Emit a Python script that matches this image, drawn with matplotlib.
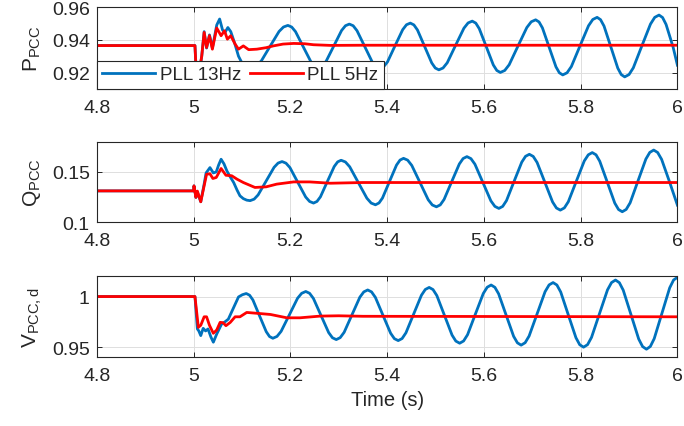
import numpy as np
import matplotlib.pyplot as plt

plt.rcParams['font.family'] = 'Liberation Sans'
plt.rcParams['mathtext.default'] = 'regular'

# ---- values ----
# P_PCC, PLL 13Hz
t_p13 = [4.8, 5.0, 5.003, 5.006, 5.012, 5.017, 5.022, 5.027, 5.033, 5.039, 5.048, 5.054, 5.060, 5.065,
         5.071, 5.077, 5.085, 5.093, 5.100, 5.111, 5.122,
         5.1311, 5.1403, 5.1585, 5.1768, 5.1859, 5.195,
         5.2029, 5.2108, 5.2265, 5.2423, 5.2501, 5.258,
         5.266, 5.274, 5.290, 5.306, 5.314, 5.322,
         5.3299, 5.3378, 5.3535, 5.3693, 5.3771, 5.385,
         5.3929, 5.4008, 5.4165, 5.4323, 5.4401, 5.448,
         5.4554, 5.4628, 5.4775, 5.4923, 5.4996, 5.507,
         5.5156, 5.5243, 5.5415, 5.5588, 5.5674, 5.576,
         5.5833, 5.5905, 5.605, 5.6195, 5.6268, 5.634,
         5.6431, 5.6523, 5.6705, 5.6888, 5.6979, 5.707,
         5.714, 5.721, 5.735, 5.749, 5.756, 5.763,
         5.7719, 5.7808, 5.7985, 5.8163, 5.8251, 5.834,
         5.8411, 5.8483, 5.8625, 5.8768, 5.8839, 5.891,
         5.8999, 5.9088, 5.9265, 5.9443, 5.9531, 5.962,
         5.9693, 5.9765, 5.991, 6.0]
p_13 = [0.9365, 0.9365, 0.9365, 0.918, 0.920, 0.930, 0.945, 0.935, 0.943, 0.935, 0.949, 0.9527, 0.946, 0.9445,
        0.9475, 0.945, 0.938, 0.930, 0.926, 0.9243, 0.9235,
        0.9245, 0.9272, 0.9362, 0.9451, 0.9478, 0.9488,
        0.9478, 0.9450, 0.9359, 0.9268, 0.9240, 0.9230,
        0.9240, 0.9269, 0.9363, 0.9457, 0.9486, 0.9496,
        0.9486, 0.9456, 0.9361, 0.9265, 0.9235, 0.9225,
        0.9236, 0.9265, 0.9364, 0.9462, 0.9492, 0.9502,
        0.9491, 0.9460, 0.9360, 0.9259, 0.9228, 0.9217,
        0.9228, 0.9260, 0.9366, 0.9471, 0.9503, 0.9514,
        0.9502, 0.9468, 0.9358, 0.9247, 0.9213, 0.9201,
        0.9213, 0.9248, 0.9362, 0.9475, 0.9510, 0.9522,
        0.9509, 0.9473, 0.9354, 0.9235, 0.9199, 0.9186,
        0.9199, 0.9237, 0.9362, 0.9486, 0.9524, 0.9537,
        0.9523, 0.9484, 0.9356, 0.9227, 0.9188, 0.9174,
        0.9188, 0.9229, 0.9363, 0.9496, 0.9537, 0.9551,
        0.9536, 0.9494, 0.9356, 0.9245]

# P_PCC, PLL 5Hz
t_p5 = [4.8, 5.0, 5.003, 5.006, 5.012, 5.017, 5.022, 5.027, 5.033, 5.039, 5.048, 5.057, 5.064, 5.070,
        5.077, 5.086, 5.093, 5.103, 5.114, 5.131, 5.150, 5.165, 5.185, 5.207, 5.230, 5.248, 5.283, 5.350, 6.0]
p_5 = [0.9365, 0.9365, 0.9365, 0.918, 0.921, 0.930, 0.9445, 0.9353, 0.9425, 0.9343, 0.9472, 0.9425, 0.9455, 0.9404,
       0.9425, 0.9374, 0.9343, 0.9363, 0.9340, 0.9343, 0.9352, 0.9363, 0.9374, 0.9378, 0.9376, 0.9370, 0.9366, 0.9367, 0.9367]

# Q_PCC, PLL 13Hz
t_q13 = [4.8, 5.0, 5.001, 5.005, 5.008, 5.015, 5.022, 5.026, 5.034, 5.041, 5.047, 5.052, 5.057, 5.063,
         5.069, 5.076, 5.083, 5.090, 5.096, 5.103, 5.110, 5.117,
         5.1253, 5.1335, 5.150, 5.1665, 5.1748, 5.183,
         5.1911, 5.1993, 5.2155, 5.2318, 5.2399, 5.248,
         5.2551, 5.2623, 5.2765, 5.2908, 5.2979, 5.305,
         5.3139, 5.3228, 5.3405, 5.3583, 5.3671, 5.376,
         5.3833, 5.3905, 5.405, 5.4195, 5.4268, 5.434,
         5.4425, 5.451, 5.468, 5.485, 5.4935, 5.502,
         5.5099, 5.5178, 5.5335, 5.5493, 5.5571, 5.565,
         5.5733, 5.5815, 5.598, 5.6145, 5.6228, 5.631,
         5.6389, 5.6468, 5.6625, 5.6783, 5.6861, 5.694,
         5.702, 5.710, 5.726, 5.742, 5.750, 5.758,
         5.7663, 5.7745, 5.791, 5.8075, 5.8158, 5.824,
         5.8318, 5.8395, 5.855, 5.8705, 5.8783, 5.886,
         5.8941, 5.9023, 5.9185, 5.9348, 5.9429, 5.951,
         5.9591, 5.9673, 5.9835, 6.0]
q_13 = [0.1312, 0.1312, 0.1362, 0.1247, 0.130, 0.1204, 0.138, 0.149, 0.1543, 0.149, 0.150, 0.157, 0.1626, 0.158,
        0.151, 0.145, 0.1395, 0.132, 0.1263, 0.1235, 0.1220, 0.1215,
        0.1230, 0.1272, 0.1409, 0.1546, 0.1588, 0.1603,
        0.1587, 0.1543, 0.1397, 0.1251, 0.1207, 0.1191,
        0.1207, 0.1253, 0.1404, 0.1554, 0.1600, 0.1616,
        0.1599, 0.1551, 0.1395, 0.1239, 0.1191, 0.1174,
        0.1192, 0.1241, 0.1405, 0.1568, 0.1618, 0.1635,
        0.1617, 0.1565, 0.1395, 0.1224, 0.1172, 0.1154,
        0.1173, 0.1227, 0.1403, 0.1579, 0.1633, 0.1652,
        0.1632, 0.1577, 0.1395, 0.1213, 0.1158, 0.1138,
        0.1158, 0.1216, 0.1407, 0.1597, 0.1655, 0.1675,
        0.1654, 0.1594, 0.1398, 0.1202, 0.1142, 0.1121,
        0.1143, 0.1204, 0.1407, 0.1609, 0.1670, 0.1692,
        0.1670, 0.1606, 0.1399, 0.1191, 0.1127, 0.1105,
        0.1128, 0.1194, 0.1411, 0.1628, 0.1694, 0.1717,
        0.1693, 0.1625, 0.1404, 0.1170]

# Q_PCC, PLL 5Hz
t_q5 = [4.8, 5.0, 5.001, 5.005, 5.008, 5.015, 5.027, 5.034, 5.040, 5.047, 5.057, 5.067, 5.079, 5.090,
        5.103, 5.127, 5.150, 5.172, 5.207, 5.240, 5.283, 5.350, 6.0]
q_5 = [0.1312, 0.1312, 0.1362, 0.1247, 0.131, 0.1204, 0.1477, 0.1482, 0.1435, 0.1445, 0.1534, 0.1467, 0.1462, 0.1428,
       0.1395, 0.1346, 0.1352, 0.1379, 0.1401, 0.1401, 0.1388, 0.1395, 0.1395]

# V_PCC,d, PLL 13Hz
t_v13 = [4.8, 5.0, 5.003, 5.008, 5.011, 5.015, 5.020, 5.025, 5.030, 5.036, 5.041, 5.048, 5.058, 5.065,
         5.072, 5.083, 5.093, 5.101, 5.109,
         5.1159, 5.1228, 5.1365, 5.1503, 5.1571, 5.164,
         5.1725, 5.181, 5.198, 5.215, 5.2235, 5.232,
         5.2399, 5.2478, 5.2635, 5.2793, 5.2871, 5.295,
         5.3031, 5.3113, 5.3275, 5.3438, 5.3519, 5.360,
         5.3679, 5.3758, 5.3915, 5.4073, 5.4151, 5.423,
         5.431, 5.439, 5.455, 5.471, 5.479, 5.487,
         5.4949, 5.5028, 5.5185, 5.5343, 5.5421, 5.550,
         5.5581, 5.5663, 5.5825, 5.5988, 5.6069, 5.615,
         5.6228, 5.6305, 5.646, 5.6615, 5.6693, 5.677,
         5.6853, 5.6935, 5.710, 5.7265, 5.7348, 5.743,
         5.7509, 5.7588, 5.7745, 5.7903, 5.7981, 5.806,
         5.8143, 5.8225, 5.839, 5.8555, 5.8638, 5.872,
         5.880, 5.888, 5.904, 5.920, 5.928, 5.936,
         5.944, 5.952, 5.968, 5.984, 5.992, 6.0]
v_13 = [1.0, 1.0, 1.0, 0.968, 0.966, 0.9614, 0.9686, 0.966, 0.968, 0.960, 0.9549, 0.963, 0.9728, 0.975,
        0.9777, 0.9892, 0.9996, 1.0018, 1.0030,
        1.0013, 0.9966, 0.9809, 0.9653, 0.9605, 0.9588,
        0.9606, 0.9656, 0.9819, 0.9983, 1.0032, 1.0050,
        1.0032, 0.9981, 0.9813, 0.9644, 0.9593, 0.9575,
        0.9594, 0.9647, 0.9820, 0.9994, 1.0046, 1.0065,
        1.0046, 0.9992, 0.9815, 0.9638, 0.9584, 0.9565,
        0.9585, 0.9642, 0.9828, 1.0013, 1.0070, 1.0090,
        1.0069, 1.0010, 0.9815, 0.9619, 0.9560, 0.9539,
        0.9561, 0.9623, 0.9827, 1.0030, 1.0092, 1.0114,
        1.0091, 1.0027, 0.9817, 0.9607, 0.9543, 0.9520,
        0.9544, 0.9610, 0.9829, 1.0048, 1.0115, 1.0138,
        1.0114, 1.0045, 0.9819, 0.9593, 0.9524, 0.9500,
        0.9525, 0.9597, 0.9832, 1.0066, 1.0138, 1.0163,
        1.0137, 1.0063, 0.9822, 0.9580, 0.9506, 0.9480,
        0.9507, 0.9584, 0.9835, 1.0086, 1.0163, 1.0190]

# V_PCC,d, PLL 5Hz
t_v5 = [4.8, 5.0, 5.003, 5.010, 5.015, 5.022, 5.027, 5.033, 5.041, 5.048, 5.055, 5.061, 5.067, 5.076,
        5.086, 5.096, 5.110, 5.135, 5.159, 5.193, 5.220, 5.262, 5.300, 5.350, 6.0]
v_5 = [1.0, 1.0, 1.0, 0.9696, 0.9716, 0.980, 0.980, 0.9716, 0.9637, 0.967, 0.9745, 0.9742, 0.9712, 0.9745,
       0.980, 0.980, 0.9843, 0.9833, 0.9823, 0.979, 0.979, 0.9807, 0.981, 0.9805, 0.980]

xticks = [4.8, 5.0, 5.2, 5.4, 5.6, 5.8, 6.0]
xtick_labels = ['4.8', '5', '5.2', '5.4', '5.6', '5.8', '6']
labels = ['PLL 13Hz', 'PLL 5Hz']

blue = '#0072BD'
red = '#FF0000'
dark = '#262626'

fig = plt.figure(figsize=(6.84, 4.27), dpi=100)

panels = [
    ([0.1414, 0.7892, 0.849, 0.192], t_p13, p_13, t_p5, p_5, (0.91, 0.96), [0.92, 0.94, 0.96],
     ['0.92', '0.94', '0.96'], r'$P_{PCC}$'),
    ([0.1414, 0.4770, 0.849, 0.1888], t_q13, q_13, t_q5, q_5, (0.1, 0.18), [0.1, 0.15],
     ['0.1', '0.15'], r'$Q_{PCC}$'),
    ([0.1414, 0.1609, 0.849, 0.1897], t_v13, v_13, t_v5, v_5, (0.94, 1.02), [0.95, 1.0],
     ['0.95', '1'], r'$V_{PCC,d}$'),
]

axes = []
for pos, ta, ya, tb, yb, ylim, yt, ytl, ylab in panels:
    ax = fig.add_axes(pos)
    ax.plot(ta, ya, color=blue, lw=2.0, label=labels[0])
    ax.plot(tb, yb, color=red, lw=2.0, label=labels[1])
    ax.set_xlim(4.8, 6.0)
    ax.set_ylim(*ylim)
    ax.set_xticks(xticks)
    ax.set_xticklabels(xtick_labels)
    ax.set_yticks(yt)
    ax.set_yticklabels(ytl)
    ax.grid(True, color='#dedede', lw=0.7)
    ax.set_axisbelow(True)
    ax.tick_params(direction='in', length=3.6, width=0.7, colors=dark, labelsize=14,
                   top=True, right=True, pad=5)
    ax.tick_params(axis='x', pad=7)
    for s in ax.spines.values():
        s.set_color(dark)
        s.set_linewidth(0.8)
    ax.set_ylabel(ylab, fontsize=15, color=dark, labelpad=6)
    axes.append(ax)

leg = axes[0].legend(loc='lower left', bbox_to_anchor=(0, 0), ncol=2, fontsize=13.5,
                     frameon=True, fancybox=False, framealpha=1, edgecolor=dark,
                     borderaxespad=0, borderpad=0.3, handlelength=2.8, handletextpad=0.25,
                     columnspacing=0.5)
leg.get_frame().set_linewidth(0.8)
for txt in leg.get_texts():
    txt.set_color(dark)

axes[2].set_xlabel('Time (s)', fontsize=14.5, color=dark, labelpad=4)

plt.savefig('out.png', dpi=100)
